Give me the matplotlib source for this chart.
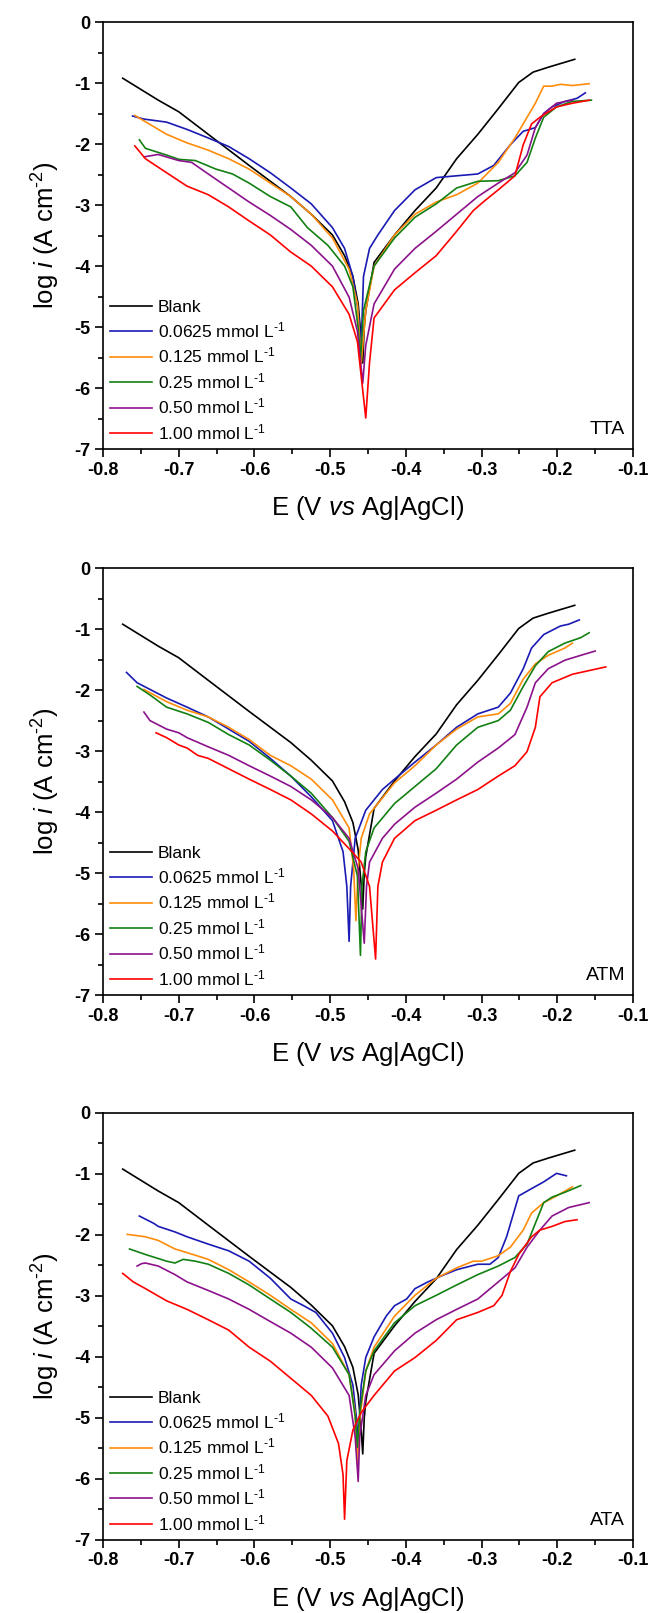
import matplotlib
matplotlib.use("Agg")
import matplotlib.pyplot as plt
from matplotlib.ticker import MultipleLocator
import numpy as np

plt.rcParams['font.family'] = ['Liberation Sans', 'DejaVu Sans']
plt.rcParams['mathtext.fontset'] = 'custom'
plt.rcParams['mathtext.rm'] = 'Liberation Sans'
plt.rcParams['mathtext.it'] = 'Liberation Sans:italic'
plt.rcParams['mathtext.bf'] = 'Liberation Sans:bold'

# --- data: (E / V vs Ag|AgCl, log i / A cm-2) ---
blank = [(-0.774, -0.92), (-0.727, -1.28), (-0.700, -1.47), (-0.661, -1.84), (-0.607, -2.35),
         (-0.552, -2.86), (-0.525, -3.15), (-0.497, -3.49), (-0.481, -3.83), (-0.470, -4.17),
         (-0.463, -4.62), (-0.459, -5.20), (-0.457, -5.59), (-0.455, -5.00), (-0.453, -4.73),
         (-0.442, -3.94), (-0.415, -3.49), (-0.388, -3.09), (-0.360, -2.72), (-0.333, -2.24),
         (-0.305, -1.84), (-0.278, -1.42), (-0.251, -0.99), (-0.232, -0.82), (-0.212, -0.74),
         (-0.177, -0.61)]

# TTA
tta_0625 = [(-0.761, -1.54), (-0.746, -1.59), (-0.716, -1.64), (-0.689, -1.76), (-0.661, -1.90),
            (-0.634, -2.04), (-0.607, -2.24), (-0.579, -2.47), (-0.552, -2.72), (-0.525, -2.98),
            (-0.497, -3.37), (-0.481, -3.71), (-0.470, -4.17), (-0.463, -4.73), (-0.459, -5.30),
            (-0.456, -4.17), (-0.448, -3.71), (-0.437, -3.49), (-0.415, -3.09), (-0.388, -2.75),
            (-0.360, -2.55), (-0.333, -2.52), (-0.305, -2.49), (-0.284, -2.35), (-0.262, -2.01),
            (-0.245, -1.79), (-0.229, -1.73), (-0.218, -1.50), (-0.207, -1.39), (-0.190, -1.30),
            (-0.174, -1.25), (-0.163, -1.16)]
tta_125 = [(-0.758, -1.53), (-0.716, -1.84), (-0.689, -1.98), (-0.661, -2.10), (-0.634, -2.24),
           (-0.607, -2.41), (-0.579, -2.64), (-0.552, -2.86), (-0.525, -3.15), (-0.497, -3.54),
           (-0.475, -4.05), (-0.464, -4.62), (-0.459, -5.60), (-0.453, -4.73), (-0.442, -4.00),
           (-0.415, -3.49), (-0.388, -3.15), (-0.360, -2.95), (-0.333, -2.83), (-0.305, -2.64),
           (-0.278, -2.30), (-0.256, -1.90), (-0.240, -1.56), (-0.229, -1.33), (-0.218, -1.05),
           (-0.207, -1.05), (-0.196, -1.02), (-0.180, -1.04), (-0.158, -1.01)]
tta_25 = [(-0.752, -1.93), (-0.744, -2.07), (-0.716, -2.18), (-0.700, -2.25), (-0.678, -2.27),
          (-0.651, -2.41), (-0.629, -2.49), (-0.607, -2.64), (-0.579, -2.86), (-0.552, -3.03),
          (-0.530, -3.37), (-0.503, -3.66), (-0.481, -4.00), (-0.470, -4.34), (-0.463, -5.02),
          (-0.460, -5.53), (-0.456, -4.73), (-0.442, -4.00), (-0.415, -3.54), (-0.388, -3.20),
          (-0.360, -2.98), (-0.333, -2.72), (-0.305, -2.61), (-0.278, -2.60), (-0.256, -2.52),
          (-0.240, -2.30), (-0.229, -1.90), (-0.218, -1.56), (-0.201, -1.39), (-0.180, -1.30),
          (-0.155, -1.28)]
tta_50 = [(-0.746, -2.21), (-0.727, -2.17), (-0.700, -2.27), (-0.683, -2.30), (-0.661, -2.49),
          (-0.634, -2.72), (-0.607, -2.95), (-0.579, -3.17), (-0.552, -3.40), (-0.525, -3.66),
          (-0.497, -4.00), (-0.475, -4.51), (-0.464, -5.07), (-0.457, -5.92), (-0.453, -5.30),
          (-0.442, -4.62), (-0.415, -4.05), (-0.388, -3.71), (-0.360, -3.43), (-0.333, -3.15),
          (-0.305, -2.86), (-0.278, -2.64), (-0.256, -2.47), (-0.240, -2.18), (-0.229, -1.73),
          (-0.218, -1.50), (-0.201, -1.33), (-0.180, -1.28)]
tta_100 = [(-0.758, -2.03), (-0.744, -2.24), (-0.716, -2.47), (-0.689, -2.69), (-0.661, -2.83),
           (-0.634, -3.03), (-0.607, -3.26), (-0.579, -3.49), (-0.552, -3.77), (-0.525, -4.00),
           (-0.497, -4.34), (-0.475, -4.79), (-0.464, -5.24), (-0.453, -6.49), (-0.448, -5.58),
           (-0.442, -4.85), (-0.415, -4.39), (-0.388, -4.11), (-0.360, -3.83), (-0.333, -3.43),
           (-0.311, -3.09), (-0.295, -2.92), (-0.278, -2.75), (-0.256, -2.52), (-0.245, -2.01),
           (-0.234, -1.67), (-0.223, -1.56), (-0.201, -1.39), (-0.180, -1.33), (-0.158, -1.28)]

# ATM
atm_0625 = [(-0.769, -1.71), (-0.755, -1.88), (-0.716, -2.13), (-0.689, -2.28), (-0.661, -2.44),
            (-0.634, -2.64), (-0.607, -2.84), (-0.579, -3.12), (-0.552, -3.41), (-0.525, -3.75),
            (-0.497, -4.14), (-0.483, -4.65), (-0.478, -5.22), (-0.475, -6.12), (-0.473, -5.22),
            (-0.467, -4.43), (-0.453, -3.97), (-0.431, -3.63), (-0.415, -3.46), (-0.388, -3.18),
            (-0.360, -2.90), (-0.333, -2.61), (-0.305, -2.39), (-0.278, -2.28), (-0.262, -2.05),
            (-0.245, -1.65), (-0.234, -1.31), (-0.218, -1.09), (-0.196, -0.95), (-0.185, -0.92),
            (-0.171, -0.85)]
atm_125 = [(-0.746, -1.99), (-0.716, -2.19), (-0.689, -2.33), (-0.661, -2.44), (-0.634, -2.61),
           (-0.607, -2.81), (-0.579, -3.07), (-0.552, -3.24), (-0.525, -3.46), (-0.497, -3.80),
           (-0.475, -4.26), (-0.469, -4.93), (-0.466, -5.78), (-0.463, -4.93), (-0.459, -4.43),
           (-0.448, -4.03), (-0.415, -3.52), (-0.388, -3.24), (-0.360, -2.90), (-0.333, -2.64),
           (-0.305, -2.44), (-0.278, -2.39), (-0.262, -2.22), (-0.245, -1.82), (-0.229, -1.57),
           (-0.212, -1.43), (-0.190, -1.31), (-0.180, -1.23)]
atm_25 = [(-0.755, -1.94), (-0.738, -2.08), (-0.716, -2.28), (-0.689, -2.39), (-0.661, -2.53),
          (-0.634, -2.73), (-0.607, -2.90), (-0.579, -3.15), (-0.552, -3.41), (-0.525, -3.69),
          (-0.497, -4.09), (-0.475, -4.48), (-0.464, -5.05), (-0.460, -6.35), (-0.458, -5.22),
          (-0.453, -4.65), (-0.442, -4.26), (-0.415, -3.86), (-0.388, -3.58), (-0.360, -3.29),
          (-0.333, -2.90), (-0.305, -2.61), (-0.278, -2.50), (-0.262, -2.33), (-0.245, -1.94),
          (-0.229, -1.60), (-0.212, -1.37), (-0.190, -1.23), (-0.169, -1.14), (-0.158, -1.06)]
atm_50 = [(-0.746, -2.36), (-0.738, -2.50), (-0.716, -2.64), (-0.700, -2.70), (-0.689, -2.78),
          (-0.661, -2.93), (-0.634, -3.07), (-0.607, -3.24), (-0.579, -3.41), (-0.552, -3.58),
          (-0.525, -3.80), (-0.497, -4.09), (-0.475, -4.43), (-0.463, -4.93), (-0.455, -6.15),
          (-0.452, -5.22), (-0.448, -4.82), (-0.431, -4.43), (-0.415, -4.20), (-0.388, -3.92),
          (-0.360, -3.69), (-0.333, -3.46), (-0.305, -3.18), (-0.278, -2.95), (-0.256, -2.73),
          (-0.240, -2.28), (-0.229, -1.88), (-0.212, -1.65), (-0.190, -1.51), (-0.169, -1.43),
          (-0.150, -1.36)]
atm_100 = [(-0.730, -2.70), (-0.716, -2.78), (-0.700, -2.90), (-0.689, -2.95), (-0.675, -3.07),
           (-0.661, -3.12), (-0.634, -3.29), (-0.607, -3.46), (-0.579, -3.63), (-0.552, -3.80),
           (-0.525, -4.03), (-0.497, -4.31), (-0.475, -4.60), (-0.459, -4.82), (-0.448, -5.22),
           (-0.440, -6.41), (-0.437, -5.22), (-0.431, -4.82), (-0.415, -4.43), (-0.388, -4.14),
           (-0.360, -3.97), (-0.333, -3.80), (-0.305, -3.63), (-0.278, -3.41), (-0.256, -3.24),
           (-0.240, -3.01), (-0.229, -2.61), (-0.223, -2.11), (-0.207, -1.88), (-0.180, -1.74),
           (-0.158, -1.68), (-0.136, -1.62)]

# ATA
ata_0625 = [(-0.752, -1.69), (-0.733, -1.81), (-0.727, -1.86), (-0.705, -1.95), (-0.689, -2.03),
            (-0.661, -2.15), (-0.634, -2.26), (-0.607, -2.43), (-0.579, -2.71), (-0.552, -3.05),
            (-0.535, -3.16), (-0.519, -3.27), (-0.497, -3.61), (-0.481, -4.01), (-0.470, -4.46),
            (-0.465, -5.03), (-0.463, -5.50), (-0.459, -4.46), (-0.453, -4.01), (-0.442, -3.67),
            (-0.426, -3.33), (-0.415, -3.16), (-0.399, -3.05), (-0.388, -2.88), (-0.371, -2.77),
            (-0.349, -2.65), (-0.333, -2.57), (-0.305, -2.48), (-0.289, -2.48), (-0.278, -2.37),
            (-0.267, -2.03), (-0.251, -1.36), (-0.234, -1.24), (-0.218, -1.13), (-0.201, -0.99),
            (-0.188, -1.03)]
ata_125 = [(-0.768, -1.99), (-0.744, -2.03), (-0.727, -2.09), (-0.705, -2.23), (-0.689, -2.29),
           (-0.661, -2.40), (-0.634, -2.57), (-0.607, -2.77), (-0.579, -2.99), (-0.552, -3.22),
           (-0.525, -3.44), (-0.497, -3.78), (-0.475, -4.29), (-0.467, -4.91), (-0.464, -5.76),
           (-0.461, -5.03), (-0.453, -4.23), (-0.442, -3.84), (-0.415, -3.33), (-0.388, -2.99),
           (-0.360, -2.71), (-0.333, -2.54), (-0.311, -2.43), (-0.300, -2.43), (-0.278, -2.34),
           (-0.262, -2.20), (-0.245, -1.92), (-0.234, -1.64), (-0.218, -1.47), (-0.201, -1.36),
           (-0.180, -1.21)]
ata_25 = [(-0.765, -2.23), (-0.744, -2.32), (-0.716, -2.43), (-0.705, -2.46), (-0.694, -2.40),
          (-0.678, -2.43), (-0.661, -2.48), (-0.634, -2.63), (-0.607, -2.82), (-0.579, -3.05),
          (-0.552, -3.27), (-0.525, -3.53), (-0.497, -3.84), (-0.475, -4.29), (-0.467, -4.97),
          (-0.464, -5.48), (-0.461, -4.91), (-0.453, -4.23), (-0.442, -3.90), (-0.415, -3.44),
          (-0.388, -3.16), (-0.360, -2.99), (-0.333, -2.82), (-0.305, -2.65), (-0.278, -2.51),
          (-0.256, -2.37), (-0.240, -2.15), (-0.229, -1.81), (-0.218, -1.47), (-0.207, -1.38),
          (-0.190, -1.30), (-0.169, -1.19)]
ata_50 = [(-0.755, -2.51), (-0.749, -2.47), (-0.744, -2.46), (-0.727, -2.51), (-0.705, -2.65),
          (-0.689, -2.77), (-0.661, -2.91), (-0.634, -3.05), (-0.607, -3.22), (-0.579, -3.42),
          (-0.552, -3.61), (-0.525, -3.84), (-0.497, -4.18), (-0.475, -4.63), (-0.467, -5.31),
          (-0.463, -6.04), (-0.461, -5.31), (-0.453, -4.63), (-0.442, -4.29), (-0.415, -3.90),
          (-0.388, -3.61), (-0.360, -3.39), (-0.333, -3.22), (-0.305, -3.05), (-0.278, -2.77),
          (-0.256, -2.54), (-0.240, -2.20), (-0.223, -1.92), (-0.207, -1.69), (-0.185, -1.55),
          (-0.158, -1.47)]
ata_100 = [(-0.774, -2.63), (-0.760, -2.77), (-0.744, -2.88), (-0.716, -3.08), (-0.689, -3.22),
           (-0.661, -3.39), (-0.634, -3.56), (-0.607, -3.84), (-0.579, -4.07), (-0.552, -4.35),
           (-0.525, -4.63), (-0.503, -4.97), (-0.489, -5.42), (-0.483, -5.93), (-0.481, -6.66),
           (-0.478, -5.70), (-0.470, -5.20), (-0.459, -4.91), (-0.442, -4.63), (-0.415, -4.23),
           (-0.388, -4.01), (-0.360, -3.73), (-0.333, -3.39), (-0.305, -3.27), (-0.284, -3.16),
           (-0.273, -2.99), (-0.262, -2.60), (-0.251, -2.32), (-0.234, -2.03), (-0.223, -1.92),
           (-0.207, -1.86), (-0.190, -1.78), (-0.174, -1.75)]

labels = ['Blank', r'0.0625 mmol L$^{\text{-1}}$', r'0.125 mmol L$^{\text{-1}}$',
          r'0.25 mmol L$^{\text{-1}}$', r'0.50 mmol L$^{\text{-1}}$', r'1.00 mmol L$^{\text{-1}}$']
colors = ['#000000', '#1a1ab4', '#ff8c0a', '#138013', '#8c128c', '#ff0000']
xtick_vals = [-0.8, -0.7, -0.6, -0.5, -0.4, -0.3, -0.2, -0.1]
ytick_vals = [-7, -6, -5, -4, -3, -2, -1, 0]

panels = [('TTA', [blank, tta_0625, tta_125, tta_25, tta_50, tta_100]),
          ('ATM', [blank, atm_0625, atm_125, atm_25, atm_50, atm_100]),
          ('ATA', [blank, ata_0625, ata_125, ata_25, ata_50, ata_100])]
bottoms = [0.7216, 0.3831, 0.0453]

fig = plt.figure(figsize=(6.5, 16.13), dpi=100)

for (name, curves), b in zip(panels, bottoms):
    ax = fig.add_axes([0.1585, b, 0.8154, 0.2647])
    for pts, lab, c in zip(curves, labels, colors):
        arr = np.array(pts)
        ax.plot(arr[:, 0], arr[:, 1], color=c, lw=1.2, label=lab)

    ax.set_xlim(-0.8, -0.1)
    ax.set_ylim(-7, 0)
    ax.set_xticks(xtick_vals)
    ax.set_xticklabels([f'{v:.1f}' for v in xtick_vals], fontweight='bold')
    ax.set_yticks(ytick_vals)
    ax.set_yticklabels([str(v) for v in ytick_vals], fontweight='bold')
    ax.xaxis.set_minor_locator(MultipleLocator(0.05))
    ax.yaxis.set_minor_locator(MultipleLocator(0.5))
    ax.tick_params(which='major', direction='out', length=6, width=1.2, labelsize=13, pad=3)
    ax.tick_params(which='minor', direction='out', length=3.5, width=1.2)
    for sp in ax.spines.values():
        sp.set_linewidth(1.2)

    ax.set_xlabel(r'E (V $\mathit{vs}$ Ag|AgCl)', fontsize=18.5, labelpad=11)
    ax.set_ylabel(r'log $\mathit{i}$ (A cm$^{\text{-2}}$)', fontsize=18.5, labelpad=9)
    ax.text(0.985, 0.025, name, transform=ax.transAxes, ha='right', va='bottom', fontsize=14)

    ax.legend(loc='lower left', frameon=False, fontsize=12.5, handlelength=2.4,
              handletextpad=0.35, labelspacing=0.32, borderaxespad=0.2, borderpad=0.2)

fig.savefig('out.png', dpi=100)
